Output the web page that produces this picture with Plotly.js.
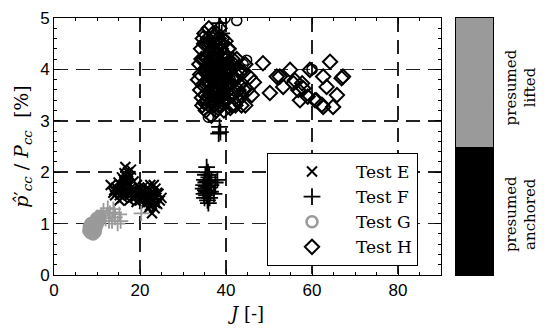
<!DOCTYPE html>
<html><head><meta charset="utf-8">
<script src="https://cdn.plot.ly/plotly-3.0.1.min.js"></script>
<style>html,body{margin:0;padding:0;background:#fff}#chart{width:550px;height:335px}</style>
</head><body><div id="chart"></div>
<script>
// ---- data ----
const seriesNames = ['Test E', 'Test F', 'Test G', 'Test H'];

// Test E (x markers, black)
const testE_J = [13.2,13.8,14.2,14.5,14.8,15.0,15.3,15.5,15.8,16.0,16.2,16.4,16.6,16.8,17.0,17.2,17.4,17.6,17.8,18.0,18.3,18.5,18.8,19.0,19.2,19.5,19.8,20.0,20.3,20.6,20.8,21.0,21.3,21.5,21.8,22.0,22.2,22.4,22.6,22.8,23.0,23.2,23.4,23.6,23.8,24.0,24.3,24.6,25.0,16.0,17.5,18.2,15.2,16.9,17.9,21.0,22.0,23.2,14.0,16.5,19.0,21.5,22.5,24.0,
  15.5,16.2,16.8,17.3,16.0,15.0,17.0,18.5,21.8,22.5,22.0,23.0,21.5,22.8,23.5,20.5,19.3,16.5,15.8,22.3];
const testE_R = [1.75,1.60,1.55,1.70,1.62,1.80,1.55,1.68,1.90,1.60,1.75,1.98,2.10,1.85,1.65,2.00,1.78,1.55,1.92,1.70,1.60,1.82,1.50,1.65,1.42,1.55,1.70,1.45,1.60,1.50,1.72,1.38,1.62,1.48,1.70,1.30,1.55,1.75,1.40,1.20,1.60,1.45,1.30,1.68,1.50,1.38,1.58,1.45,1.50,1.50,1.45,1.50,1.45,1.90,2.05,1.55,1.65,1.75,1.65,1.80,1.55,1.40,1.55,1.60,
  1.75,1.85,1.72,1.62,1.68,1.65,1.80,1.65,1.50,1.48,1.42,1.55,1.58,1.62,1.40,1.62,1.75,1.60,1.58,1.35];

// Test F (+ markers, black)
const testF_J = [35.5,35.8,35.2,36.0,35.0,35.6,36.3,34.8,35.4,36.0,37.5,38.0,35.2,35.8,36.4,34.9,35.5,36.2,35.0,35.7,37.2,36.5,35.3,36.1,34.7,35.9,36.6,35.4,38.3,38.7,38.5,38.4,39.0,37.5,38.0,36.5,37.0,38.8];
const testF_R = [2.10,2.00,1.95,1.90,1.85,1.82,1.80,1.75,1.72,1.70,1.80,1.85,1.65,1.60,1.62,1.58,1.55,1.50,1.50,1.45,1.58,1.75,1.80,1.95,1.68,1.40,1.85,1.62,2.75,2.78,2.88,4.90,4.70,3.20,3.50,4.20,3.80,4.20];
// Test F, grey points (presumed lifted)
const testFg_J = [11.0,11.5,12.0,12.5,13.0,13.5,13.8,14.2,14.8,15.2,15.5,20.3,12.8,14.0];
const testFg_R = [1.15,1.25,1.10,1.30,1.20,1.05,1.28,1.12,1.00,1.18,1.05,1.20,1.05,1.22];

// Test G (circles), grey points and black points
const testG_J = [8.3,8.6,8.8,9.0,9.2,9.4,9.6,9.8,10.0,10.2,8.5,9.1,9.5,10.4,8.9,8.4,8.7,9.3,9.7,10.1,9.0,9.9,8.6,9.4,10.3,8.1,10.6,8.2,9.6];
const testG_R = [0.88,0.95,0.85,0.92,1.00,0.88,0.95,1.05,0.98,1.08,0.82,0.80,1.02,1.12,1.00,0.92,0.90,0.94,0.90,1.02,0.86,1.10,1.00,0.98,1.04,0.86,1.14,0.94,0.84];
const testGb_J = [39.8,42.5,35.9,44.8,60.0,38.0,37.0,39.0,41.0,44.0];
const testGb_R = [5.00,4.95,3.07,4.18,4.00,4.40,3.90,3.50,3.80,4.10];

// Test H (diamonds, black)
const testH_J = [33.5,33.8,34.0,34.2,34.5,34.6,35.0,35.3,35.5,35.8,36.0,36.2,36.4,36.6,36.8,37.0,37.2,37.4,37.6,37.8,38.0,38.2,38.4,38.6,38.8,39.0,39.2,39.4,39.6,39.8,40.0,40.2,40.4,40.6,40.8,41.0,41.3,41.6,42.0,42.4,42.8,43.2,43.6,44.0,44.5,45.0,45.5,46.0,46.5,35.0,35.4,36.0,36.3,37.0,37.3,38.0,38.5,39.0,36.5,37.8,34.8,35.6,38.3,39.5,37.1,40.5,41.5,43.0,44.5,
  36.5,37.0,37.5,38.0,38.5,37.5,36.8,38.8,39.3,37.3,36.0,38.2,39.0,36.2,37.7,35.5,38.5,40.0,39.7,36.7,
  34.0,34.3,34.6,34.9,35.2,35.5,35.8,36.1,36.4,36.7,37.0,37.3,37.6,37.9,38.2,38.5,38.8,39.1,39.4,39.7,40.0,40.3,40.6,40.9,41.2,41.5,41.8,42.1,42.5,42.9,43.3,34.4,35.0,35.7,36.9,38.0,39.2,40.1,36.3,37.6,38.7,39.9,43.6,42.2,44.2,41.0,
  48.6,51.8,50.2,54.9,53.3,56.0,56.8,59.5,59.0,61.0,62.6,64.2,64.9,67.2,62.6,57.7,63.4,65.8,52.5,57.2,60.7,62.3,66.9,55.7,58.0];
const testH_R = [3.80,4.10,3.60,4.40,3.30,4.60,4.70,3.20,4.50,3.90,4.80,3.50,4.20,3.10,4.60,3.80,4.40,3.40,4.00,4.70,3.60,4.20,3.30,4.50,3.90,4.10,3.50,4.30,3.80,4.00,3.40,4.20,3.70,3.95,3.50,4.10,3.30,3.80,3.60,3.90,3.40,3.70,3.50,3.95,3.30,3.60,3.85,3.50,3.75,4.00,3.70,4.30,3.85,4.20,3.60,4.00,3.70,4.50,4.00,3.90,4.20,3.40,4.60,3.20,3.30,4.40,4.20,4.00,4.10,
  3.60,4.00,4.30,3.80,4.00,3.70,4.40,4.40,3.90,4.50,3.90,3.40,3.70,4.50,3.20,4.20,4.80,3.80,4.30,3.40,
  3.90,4.20,3.70,4.50,3.50,4.00,4.60,3.30,3.70,4.10,4.70,3.90,3.50,4.30,3.90,3.50,4.00,4.60,3.40,3.60,4.10,3.90,4.40,3.70,4.00,3.50,4.10,3.80,4.20,3.60,3.95,3.45,3.35,3.80,3.60,4.45,3.85,3.55,4.05,4.15,3.30,4.55,3.30,3.30,3.60,3.25,
  4.12,3.86,3.54,3.99,3.66,3.79,3.60,3.99,3.47,3.40,3.86,4.15,3.27,3.86,3.27,3.73,3.66,3.50,3.86,3.40,3.40,3.31,3.83,3.73,3.63];

// Side bar: presumed states (bottom to top)
const stateLabels = ['presumed<br>anchored', 'presumed<br>lifted'];
const stateSpans = [2.5, 2.5];
const stateColors = ['#000000', '#9a9a9a'];

// ---- traces ----
const grey = '#9a9a9a';
const traces = [
  {x: testE_J, y: testE_R, name: seriesNames[0], legendgroup: 'E', type: 'scatter', mode: 'markers',
   marker: {symbol: 'x-thin-open', size: 10, color: '#000', line: {width: 2, color: '#000'}}},
  {x: testF_J, y: testF_R, name: seriesNames[1], legendgroup: 'F', type: 'scatter', mode: 'markers',
   marker: {symbol: 'cross-thin-open', size: 12, color: '#000', line: {width: 1.8, color: '#000'}}},
  {x: testG_J, y: testG_R, name: seriesNames[2], legendgroup: 'G', type: 'scatter', mode: 'markers',
   marker: {symbol: 'circle-open', size: 11, color: grey, line: {width: 2.5, color: grey}}},
  {x: testH_J, y: testH_R, name: seriesNames[3], legendgroup: 'H', type: 'scatter', mode: 'markers',
   marker: {symbol: 'diamond-open', size: 11, color: '#000', line: {width: 2, color: '#000'}}},
  {x: testFg_J, y: testFg_R, name: seriesNames[1], legendgroup: 'F', showlegend: false, type: 'scatter', mode: 'markers',
   marker: {symbol: 'cross-thin-open', size: 11, color: grey, line: {width: 1.8, color: grey}}},
  {x: testGb_J, y: testGb_R, name: seriesNames[2], legendgroup: 'G', showlegend: false, type: 'scatter', mode: 'markers',
   marker: {symbol: 'circle-open', size: 10, color: '#000', line: {width: 1.5, color: '#000'}}}
];
stateSpans.forEach((s, i) => {
  traces.push({type: 'bar', x: ['state'], y: [s], xaxis: 'x2', yaxis: 'y2', width: 1,
    showlegend: false, hoverinfo: 'skip', name: stateLabels[i].replace('<br>', ' '),
    marker: {color: stateColors[i], line: {width: 0}}});
});

const plotW = 439; // paper width in px (550 - 54 - 57)
const axisFont = {family: 'Liberation Sans, Arial, sans-serif', size: 17, color: '#000'};
const serif = 'DejaVu Serif, Liberation Serif, serif';
const grid = {showgrid: true, gridcolor: '#222', gridwidth: 1.5, griddash: '14px,8px'};

const layout = {
  width: 550, height: 335,
  margin: {l: 54, r: 57, t: 18, b: 60},
  paper_bgcolor: '#fff', plot_bgcolor: '#fff',
  showlegend: true, barmode: 'stack', hovermode: false,
  xaxis: Object.assign({
    domain: [0, 387 / plotW], range: [0, 90], tickvals: [0, 20, 40, 60, 80],
    ticks: 'inside', ticklen: 6, tickwidth: 1, tickcolor: '#000',
    minor: {dtick: 5, ticks: 'inside', ticklen: 3, tickcolor: '#000', showgrid: false},
    showline: true, linecolor: '#000', linewidth: 1, mirror: 'ticks', zeroline: false,
    tickfont: axisFont,
    title: {text: '<i>J</i> [-]', font: {family: serif, size: 18, color: '#000'}, standoff: 7}
  }, grid),
  yaxis: Object.assign({
    range: [0, 5], tickvals: [0, 1, 2, 3, 4, 5],
    ticks: 'inside', ticklen: 6, tickwidth: 1, tickcolor: '#000',
    minor: {dtick: 0.2, ticks: 'inside', ticklen: 3, tickcolor: '#000', showgrid: false},
    showline: true, linecolor: '#000', linewidth: 1, mirror: 'ticks', zeroline: false,
    tickfont: axisFont,
    title: {text: '<i>p̂</i>′<sub><i>cc</i></sub> / <i>P</i><sub><i>cc</i></sub>  [%]', font: {family: serif, size: 19, color: '#000'}, standoff: 6}
  }, grid),
  xaxis2: {domain: [(456 - 54) / plotW, 1], anchor: 'y2', range: [-0.5, 0.5], showticklabels: false,
    ticks: '', showgrid: false, zeroline: false, showline: true, linecolor: '#000', linewidth: 1, mirror: true, fixedrange: true},
  yaxis2: {anchor: 'x2', range: [0, 5], showticklabels: false, ticks: '', showgrid: false, zeroline: false,
    showline: true, linecolor: '#000', linewidth: 1, mirror: true},
  legend: {x: (267 - 54) / plotW, y: (275 - 153) / 257, xanchor: 'left', yanchor: 'top',
    traceorder: 'normal', tracegroupgap: 4, itemwidth: 78,
    bgcolor: '#fff', bordercolor: '#000', borderwidth: 1,
    font: {family: serif, size: 17, color: '#000'}},
  annotations: stateLabels.map((t, i) => ({
    text: t, textangle: -90, showarrow: false, xref: 'paper', yref: 'paper',
    x: (521 - 54) / plotW, y: [0.237, 0.73][i], xanchor: 'center', yanchor: 'middle',
    font: {family: serif, size: 15, color: '#000'}
  }))
};

Plotly.newPlot('chart', traces, layout, {displayModeBar: false, staticPlot: true});
</script></body></html>
